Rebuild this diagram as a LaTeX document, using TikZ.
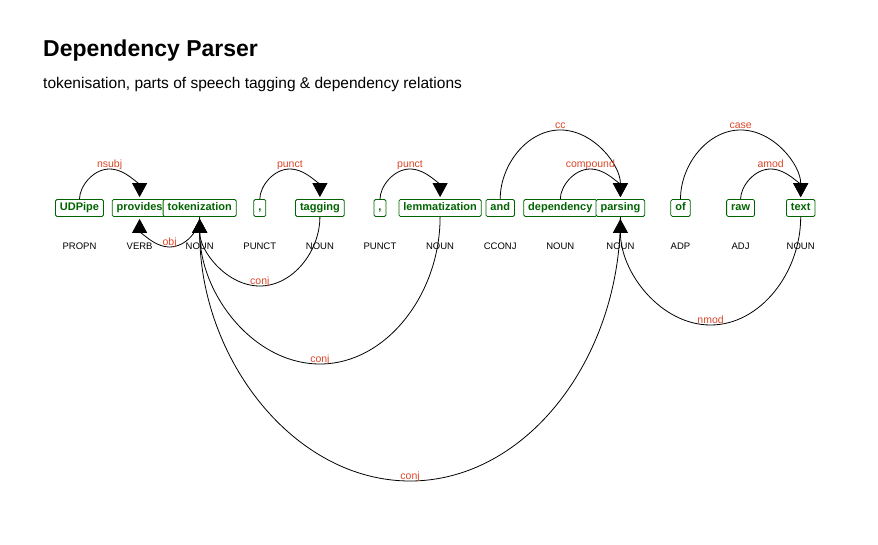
\documentclass[tikz,border=0pt]{standalone}
\usepackage{fontspec}
\setmainfont{Liberation Sans}
\usetikzlibrary{arrows.meta, calc}
\definecolor{tokgreen}{RGB}{0,100,0}
\definecolor{relred}{RGB}{220,70,40}
\tikzset{
    token/.style={draw=tokgreen, fill=white, rounded corners=1.5pt, line width=0.8pt,
        text=tokgreen, font=\fontsize{11}{13}\selectfont\bfseries,
        inner xsep=4.5pt, inner ysep=0pt, text height=8pt, text depth=2.5pt, minimum height=17pt},
    postag/.style={anchor=base, inner sep=0pt, font=\fontsize{9.5}{11}\selectfont},
    dep/.style={line width=0.8pt, -{Triangle[width=15pt,length=14pt]}, shorten >=2pt},
    deplabel/.style={anchor=base, yshift=1.5pt, inner sep=0pt, text=relred,
        font=\fontsize{10.5}{12}\selectfont}
}

\begin{document}
\begin{tikzpicture}[x=1pt, y=-1pt]
    \useasboundingbox (0,0) rectangle (878,545);

    % Title
    \node[anchor=base west, inner sep=0pt, font=\fontsize{23}{27}\selectfont\bfseries] (title) at (43,57) {Dependency Parser};
    \node[anchor=base west, inner sep=0pt, font=\fontsize{15.5}{18}\selectfont] (subtitle) at (43,89) {tokenisation, parts of speech tagging \& dependency relations};

    % Tokens with their parts of speech
    \foreach \name/\word/\tag [count=\i] in {UDPipe/UDPipe/PROPN, provides/provides/VERB,
        tokenization/tokenization/NOUN, comma1/{,}/PUNCT, tagging/tagging/NOUN, comma2/{,}/PUNCT,
        lemmatization/lemmatization/NOUN, and/and/CCONJ, dependency/dependency/NOUN,
        parsing/parsing/NOUN, of/of/ADP, raw/raw/ADJ, text/text/NOUN} {
        \node[token] (\name) at ({79.5+60.1*(\i-1)},208) {\word};
        \node[postag] (\name-tag) at ({79.5+60.1*(\i-1)},250) {\tag};
    }

    % Dependency arcs: half ellipses, negative depth = above the tokens
    \foreach \src/\tgt/\ry/\rel in {UDPipe/provides/-39/nsubj, comma1/tagging/-39/punct,
        comma2/lemmatization/-39/punct, and/parsing/-78/cc, dependency/parsing/-39/compound,
        of/text/-78/case, raw/text/-39/amod, tokenization/provides/39/obj,
        tagging/tokenization/78/conj, lemmatization/tokenization/156/conj,
        parsing/tokenization/273/conj, text/parsing/117/nmod} {
        \draw[dep] (\src) .. controls ($(\src)+(0,0.5523*\ry)$) and ($(\src)!0.2239!(\tgt)+(0,\ry)$)
            .. ($(\src)!0.5!(\tgt)+(0,\ry)$) node[deplabel] {\rel}
            .. controls ($(\src)!0.7761!(\tgt)+(0,\ry)$) and ($(\tgt)+(0,0.5523*\ry)$) .. (\tgt);
    }
\end{tikzpicture}
\end{document}
